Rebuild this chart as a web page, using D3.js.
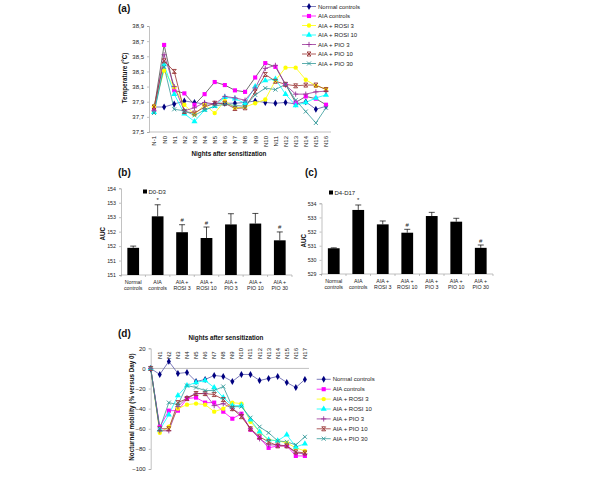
<!DOCTYPE html>
<html>
<head>
<meta charset="utf-8">
<script src="https://cdn.jsdelivr.net/npm/d3@7"></script>
<style>
  body { margin: 0; background: #fff; }
  svg { font-family: "Liberation Sans", Arial, sans-serif; }
  .tick text { font-size: 6px; fill: #222; }
  .bars .tick text { font-size: 5.3px; }
  .axis path, .axis line { stroke: #999; stroke-width: 0.6; }
  .title { font-weight: bold; font-size: 6.3px; fill: #111; }
  .panel { font-weight: bold; font-size: 10px; fill: #111; }
  .leg { font-size: 6px; fill: #222; }
</style>
</head>
<body>
<svg id="chart" width="600" height="477"></svg>
<script>
// --- data -------------------------------------------------------
const seriesNames = ["Normal controls", "AIA controls", "AIA + ROSI 3", "AIA + ROSI 10",
                     "AIA + PIO 3", "AIA + PIO 10", "AIA + PIO 30"];

// (a) temperature, nights N-1 .. N16
const tempNights = ["N-1", "N0", "N1", "N2", "N3", "N4", "N5", "N6", "N7", "N8",
                    "N9", "N10", "N11", "N12", "N13", "N14", "N15", "N16"];
const tempNormal = [37.83, 37.83, 37.87, 37.91, 37.89, 37.87, 37.87, 37.88, 37.88, 37.89, 37.91, 37.89, 37.88, 37.89, 37.87, 37.90, 37.80, 37.84];
const tempAIA    = [37.80, 38.65, 38.05, 38.01, 37.86, 38.00, 38.16, 38.12, 38.05, 38.03, 38.22, 38.41, 38.36, 38.13, 37.89, 37.97, 37.94, 37.86];
const tempRosi3  = [37.84, 38.31, 38.09, 37.86, 37.73, 37.86, 37.75, 37.91, 37.82, 37.83, 37.88, 37.93, 38.18, 38.35, 38.35, 38.19, 38.11, 38.07];
const tempRosi10 = [37.76, 38.39, 38.00, 37.74, 37.64, 37.79, 37.84, 37.96, 37.94, 37.88, 38.10, 38.18, 38.20, 38.00, 37.85, 37.89, 37.95, 37.99];
const tempPio3   = [37.78, 38.52, 38.10, 37.78, 37.82, 37.89, 37.87, 37.97, 37.95, 37.92, 38.08, 38.34, 38.38, 38.12, 38.00, 38.00, 38.03, 38.04];
const tempPio10  = [37.83, 38.44, 38.30, 37.77, 37.75, 37.83, 37.88, 37.88, 37.81, 37.82, 38.03, 38.26, 38.17, 38.13, 38.11, 38.12, 38.12, 38.06];
const tempPio30  = [37.75, 38.36, 37.80, 37.78, 37.72, 37.79, 37.84, 37.87, 37.85, 37.84, 37.99, 38.08, 38.06, 38.13, 37.92, 37.77, 37.62, 37.82];
const tempTicks  = [37.5, 37.7, 37.9, 38.1, 38.3, 38.5, 38.7, 38.9];
const tempTickLabels = ["37,5", "37,7", "37,9", "38,1", "38,3", "38,5", "38,7", "38,9"];

// (b) and (c) AUC bars
const groupLabels = [["Normal", "controls"], ["AIA", "controls"], ["AIA +", "ROSI 3"], ["AIA +", "ROSI 10"],
                     ["AIA +", "PIO 3"], ["AIA +", "PIO 10"], ["AIA +", "PIO 30"]];
const aucEarly    = [151.54, 152.63, 152.08, 151.88, 152.35, 152.38, 151.80];
const aucEarlyErr = [0.06, 0.40, 0.26, 0.38, 0.37, 0.35, 0.29];
const aucEarlySig = ["", "*", "#", "#", "", "", "#"];
const aucEarlyTicks = [150.6, 151.1, 151.6, 152.1, 152.6, 153.1, 153.6];
const aucEarlyTickLabels = ["151", "151", "152", "152", "153", "153", "154"];
const aucLate    = [530.82, 533.53, 532.51, 531.92, 533.10, 532.70, 530.85];
const aucLateErr = [0.03, 0.35, 0.24, 0.24, 0.26, 0.24, 0.20];
const aucLateSig = ["", "*", "", "#", "", "", "#"];
const aucLateTicks = [529, 530, 531, 532, 533, 534];
const aucLateTickLabels = ["529", "530", "531", "532", "533", "534"];

// (d) nocturnal mobility, day 0 then N1 .. N17
const mobNights = ["D0", "N1", "N2", "N3", "N4", "N5", "N6", "N7", "N8", "N9",
                   "N10", "N11", "N12", "N13", "N14", "N15", "N16", "N17"];
const mobNormal = [0, -6, 7, -5, -4, -13, -11, -7, -8, -13, -6, -6, -12, -10, -8, -14, -19, -11];
const mobAIA    = [0, -58, -42, -42, -30, -29, -34, -34, -43, -50, -45, -61, -69, -79, -77, -77, -87, -87];
const mobRosi3  = [0, -64, -58, -40, -36, -35, -36, -43, -40, -34, -35, -53, -63, -71, -72, -74, -79, -82];
const mobRosi10 = [0, -61, -46, -27, -17, -14, -12, -19, -29, -37, -37, -51, -63, -71, -72, -66, -78, -75];
const mobPio3   = [0, -62, -62, -38, -29, -25, -25, -37, -35, -40, -46, -60, -70, -76, -76, -77, -84, -85];
const mobPio10  = [0, -60, -60, -34, -30, -25, -25, -26, -31, -40, -48, -60, -68, -73, -77, -77, -83, -84];
const mobPio30  = [0, -60, -34, -36, -17, -19, -22, -22, -18, -38, -38, -49, -58, -64, -72, -73, -76, -68];
const mobTicks  = [-100, -80, -60, -40, -20, 0, 20];

// --- styles per series ------------------------------------------
const styles = [
  {color: "#000080", line: "#5a5aa8", mark: "diamond"},
  {color: "#ff00ff", line: "#ff00ff", mark: "square"},
  {color: "#ffff00", line: "#ffff00", mark: "circle"},
  {color: "#00ffff", line: "#00ffff", mark: "triangle"},
  {color: "#993399", line: "#993399", mark: "plus"},
  {color: "#993333", line: "#993333", mark: "star"},
  {color: "#339999", line: "#339999", mark: "cross"}
];

const svg = d3.select("#chart");

function drawMarker(g, type, color, x, y) {
  if (type === "plus" || type === "star" || type === "cross") {
    let d = "";
    if (type === "plus") d = "M-2.6,0H2.6M0,-2.6V2.6";
    if (type === "cross") d = "M-2,-2L2,2M-2,2L2,-2";
    if (type === "star") d = "M-2,-2L2,2M-2,2L2,-2M-2,-2H2M-2,2H2";
    g.append("path").attr("d", d).attr("transform", `translate(${x},${y})`)
      .attr("stroke", color).attr("stroke-width", 0.9).attr("fill", "none");
    return;
  }
  const sym = {diamond: d3.symbolDiamond, square: d3.symbolSquare,
               circle: d3.symbolCircle, triangle: d3.symbolTriangle}[type];
  const size = {diamond: 14, square: 17, circle: 15, triangle: 16}[type];
  g.append("path").attr("d", d3.symbol(sym, size)())
    .attr("transform", `translate(${x},${y})`).attr("fill", color);
}

function drawLines(g, x, y, cats, data, lineOverride) {
  data.forEach((vals, i) => {
    const st = styles[i];
    const pts = vals.map((v, j) => [x(cats[j]), y(v)]);
    g.append("path").attr("d", d3.line()(pts)).attr("fill", "none")
      .attr("stroke", lineOverride && lineOverride[i] ? lineOverride[i] : st.line)
      .attr("stroke-width", 0.8);
  });
  data.forEach((vals, i) => {
    vals.forEach((v, j) => drawMarker(g, styles[i].mark, styles[i].color, x(cats[j]), y(v)));
  });
}

function drawLegend(x0, y0, step) {
  const g = svg.append("g");
  seriesNames.forEach((name, i) => {
    const yy = y0 + i * step;
    g.append("line").attr("x1", x0).attr("x2", x0 + 14).attr("y1", yy).attr("y2", yy)
      .attr("stroke", styles[i].line).attr("stroke-width", 0.8);
    drawMarker(g, styles[i].mark, styles[i].color, x0 + 7, yy);
    g.append("text").attr("class", "leg").attr("x", x0 + 16).attr("y", yy + 2.1).text(name);
  });
}

// --- (a) temperature -------------------------------------------
{
  const x = d3.scalePoint().domain(tempNights).range([154, 326]);
  const y = d3.scaleLinear().domain([37.5, 38.9]).range([132, 26]);
  const g = svg.append("g");

  g.append("g").attr("class", "axis").attr("transform", "translate(149,0)")
    .call(d3.axisLeft(y).tickValues(tempTicks).tickSize(2).tickPadding(3)
      .tickFormat((d, i) => tempTickLabels[i]));
  const xa = g.append("g").attr("class", "axis").attr("transform", "translate(0,132)")
    .call(d3.axisBottom(x).tickSize(0).tickPadding(4));
  xa.select(".domain").attr("d", "M149,0H331");
  xa.selectAll(".tick text").attr("transform", "rotate(-90)").attr("text-anchor", "end")
    .attr("x", -4).attr("y", 0).attr("dy", "0.32em");
  drawLines(g, x, y, tempNights,
    [tempNormal, tempAIA, tempRosi3, tempRosi10, tempPio3, tempPio10, tempPio30],
    [null, "#4a4a4a"]);

  svg.append("text").attr("class", "panel").attr("x", 118).attr("y", 11.5).text("(a)");
  svg.append("text").attr("class", "title").attr("text-anchor", "middle")
    .attr("transform", "translate(127,78) rotate(-90)").text("Temperature (°C)");
  svg.append("text").attr("class", "title").attr("text-anchor", "middle")
    .attr("x", 229).attr("y", 155.5).text("Nights after sensitization");
  drawLegend(302, 6.5, 9.5);
}

// --- (b) and (c) bars ------------------------------------------
function barPanel(opts) {
  const x = d3.scaleBand().domain(d3.range(groupLabels.length)).range(opts.xr).paddingInner(0.52).paddingOuter(0.26);
  const y = d3.scaleLinear().domain(opts.dom).range(opts.yr);
  const g = svg.append("g").attr("class", "bars");
  g.append("g").attr("class", "axis").attr("transform", `translate(${opts.xr[0]},0)`)
    .call(d3.axisLeft(y).tickValues(opts.ticks).tickSize(2).tickPadding(3)
      .tickFormat((d, i) => opts.tickLabels[i]));
  const base = opts.yr[0];
  g.append("line").attr("x1", opts.xr[0]).attr("x2", opts.xr[1]).attr("y1", base).attr("y2", base)
    .attr("stroke", "#999").attr("stroke-width", 0.6);
  const step = x.step();
  d3.range(groupLabels.length + 1).forEach(i => {
    const xx = opts.xr[0] + i * step;
    g.append("line").attr("x1", xx).attr("x2", xx).attr("y1", base).attr("y2", base + 2)
      .attr("stroke", "#999").attr("stroke-width", 0.6);
  });

  opts.values.forEach((v, i) => {
    const bx = x(i), bw = x.bandwidth(), cx = bx + bw / 2;
    const top = y(v), et = y(v + opts.err[i]);
    g.append("line").attr("x1", cx).attr("x2", cx).attr("y1", top).attr("y2", et)
      .attr("stroke", "#000").attr("stroke-width", 0.7);
    g.append("line").attr("x1", cx - 3).attr("x2", cx + 3).attr("y1", et).attr("y2", et)
      .attr("stroke", "#000").attr("stroke-width", 0.7);
    g.append("rect").attr("x", bx).attr("y", top).attr("width", bw).attr("height", base - top)
      .attr("fill", "#000");
    if (opts.sig[i]) {
      g.append("text").attr("x", cx).attr("y", et - 2.5).attr("text-anchor", "middle")
        .attr("font-size", "6px").attr("fill", "#222").text(opts.sig[i]);
    }
    groupLabels[i].forEach((t, k) => {
      g.append("text").attr("x", opts.xr[0] + (i + 0.5) * step).attr("y", base + 8.5 + k * 6)
        .attr("text-anchor", "middle").attr("font-size", "5.3px").attr("fill", "#222").text(t);
    });
  });

  g.append("rect").attr("x", opts.leg[0]).attr("y", opts.leg[1] - 2.5).attr("width", 4).attr("height", 4).attr("fill", "#000");
  g.append("text").attr("class", "leg").attr("x", opts.leg[0] + 5.5).attr("y", opts.leg[1] + 1.6).text(opts.legText);

  svg.append("text").attr("class", "panel").attr("x", opts.panelX).attr("y", 175.5).text(opts.panel);
  svg.append("text").attr("class", "title").attr("text-anchor", "middle")
    .attr("transform", `translate(${opts.xr[0] - 16},${(opts.yr[0] + opts.yr[1]) / 2 + 2}) rotate(-90)`)
    .attr("font-size", "7px").text("AUC");
}

barPanel({xr: [121, 292], yr: [275, 188.3], dom: [150.6, 153.6],
  ticks: aucEarlyTicks, tickLabels: aucEarlyTickLabels,
  values: aucEarly, err: aucEarlyErr, sig: aucEarlySig,
  leg: [143, 192], legText: "D0-D3", panel: "(b)", panelX: 118});
barPanel({xr: [321.5, 493], yr: [274, 203.3], dom: [529, 534],
  ticks: aucLateTicks, tickLabels: aucLateTickLabels,
  values: aucLate, err: aucLateErr, sig: aucLateSig,
  leg: [329, 193], legText: "D4-D17", panel: "(c)", panelX: 305});

// --- (d) nocturnal mobility -----------------------------------
{
  const x = d3.scalePoint().domain(mobNights).range([150.7, 304.9]);
  const y = d3.scaleLinear().domain([-100, 20]).range([469, 348.3]);
  const g = svg.append("g");
  g.append("g").attr("class", "axis").attr("transform", "translate(150.7,0)")
    .call(d3.axisLeft(y).tickValues(mobTicks).tickSize(2).tickPadding(3));
  g.append("line").attr("x1", 150.7).attr("x2", 309).attr("y1", y(0)).attr("y2", y(0))
    .attr("stroke", "#999").attr("stroke-width", 0.6);
  mobNights.slice(1).forEach(n => {
    g.append("text").attr("font-size", "6px").attr("fill", "#222")
      .attr("transform", `translate(${x(n) + 2},359) rotate(-90)`).text(n);
  });
  drawLines(g, x, y, mobNights,
    [mobNormal, mobAIA, mobRosi3, mobRosi10, mobPio3, mobPio10, mobPio30]);

  svg.append("text").attr("class", "panel").attr("x", 118).attr("y", 336.5).text("(d)");
  svg.append("text").attr("class", "title").attr("text-anchor", "middle")
    .attr("x", 226).attr("y", 340).text("Nights after sensitization");
  svg.append("text").attr("class", "title").attr("text-anchor", "middle")
    .attr("transform", "translate(134,407) rotate(-90)").text("Nocturnal mobility (% versus Day 0)");
  drawLegend(316.7, 379.3, 9.9);
}
</script>
</body>
</html>
